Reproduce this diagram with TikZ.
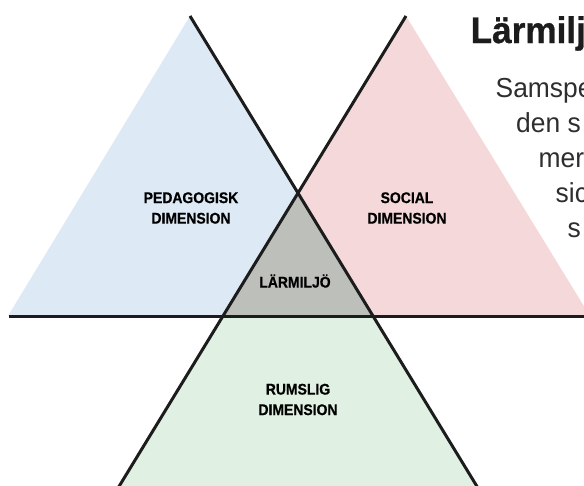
\documentclass[tikz,border=0pt]{standalone}
\usepackage{fontspec}
\setmainfont{Liberation Sans}
\newfontfamily\condbold[FakeStretch=0.9,FakeBold=0.6]{Liberation Sans Bold}
\newfontfamily\headfont[FakeStretch=0.95,FakeBold=0.8]{Liberation Sans Bold}
\newfontfamily\bodyfont[FakeStretch=0.96]{Liberation Sans}
\definecolor{pedblue}{HTML}{DDE9F5}
\definecolor{socpink}{HTML}{F5D9DA}
\definecolor{midgray}{HTML}{BDBFBB}
\definecolor{rumgreen}{HTML}{E0F0E2}
\definecolor{inkline}{HTML}{1C1C1C}
\definecolor{bodyink}{HTML}{2E2E2E}
\tikzset{
  dimlabel/.style={font=\condbold\fontsize{15.5}{20.5}\selectfont, align=center, inner sep=0pt, text=black},
  crossline/.style={draw=inkline, line width=3pt, line cap=butt},
  bodyline/.style={font=\bodyfont\fontsize{27.5}{35}\selectfont, text=bodyink, anchor=base west, inner sep=0pt},
}
\begin{document}
\begin{tikzpicture}[x=1pt,y=-1pt]
\useasboundingbox (0,0) rectangle (584,485);
% key points
\coordinate (apexL) at (190,16);
\coordinate (apexR) at (406,16);
\coordinate (cross) at (298,193);
\coordinate (baseL) at (8,316);
\coordinate (lineL) at (9,316);
\coordinate (lineR) at (590,316);
\coordinate (innL) at (223,316);
\coordinate (innR) at (373,316);
\coordinate (baseR) at (590,316);
\coordinate (botL) at (115,493);
\coordinate (botR) at (481,493);
% fills
\fill[pedblue] (apexL) -- (baseL) -- (innL) -- (cross) -- cycle;
\fill[socpink] (apexR) -- (cross) -- (innR) -- (baseR) -- cycle;
\fill[midgray] (cross) -- (innL) -- (innR) -- cycle;
\fill[rumgreen] (innL) -- (innR) -- (botR) -- (botL) -- cycle;
% lines
\draw[crossline] (apexL) -- (botR);
\draw[crossline] (apexR) -- (botL);
\draw[crossline] (lineL) -- (lineR);
% labels
\node[dimlabel] (ped) at (191,208) {PEDAGOGISK\\DIMENSION};
\node[dimlabel] (soc) at (407,208) {SOCIAL\\DIMENSION};
\node[dimlabel] (lar) at (295,281) {LÄRMILJÖ};
\node[dimlabel] (rum) at (298,399.5) {RUMSLIG\\DIMENSION};
% heading and text
\node[anchor=base west, inner sep=0pt, text=inkline, font=\headfont\fontsize{37}{40}\selectfont] (head) at (470.5,43) {Lärmiljö};
\node[bodyline] (t1) at (495.5,97) {Samspe};
\node[bodyline] (t2) at (516,132) {den s};
\node[bodyline] (t3) at (538.5,167) {mer};
\node[bodyline] (t4) at (555.5,202) {sic};
\node[bodyline] (t5) at (567.5,237) {s};
\end{tikzpicture}
\end{document}
